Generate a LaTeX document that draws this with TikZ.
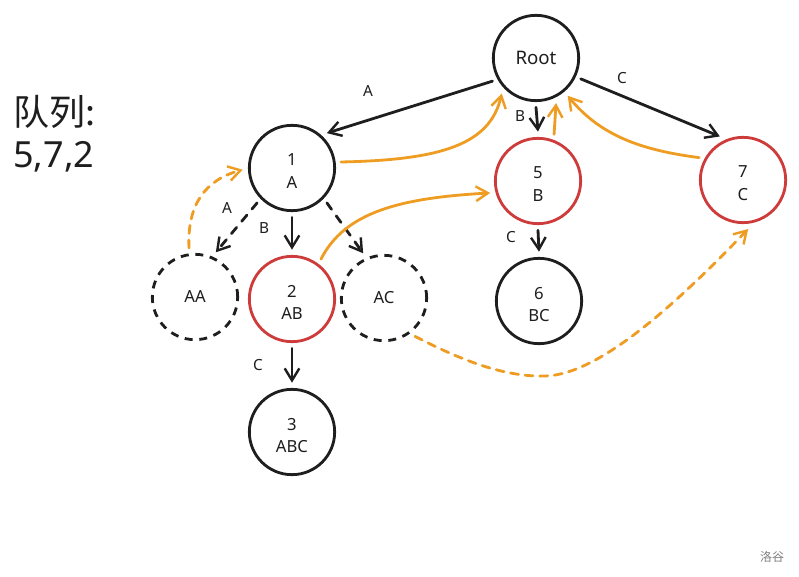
\documentclass[tikz,border=0pt]{standalone}
\usepackage{fontspec}
\setmainfont{Noto Sans}
\newfontfamily\cjk{Noto Sans CJK SC}
\usetikzlibrary{arrows.meta}
\definecolor{ink}{HTML}{1E1E1E}
\definecolor{redc}{HTML}{CD3B3B}
\definecolor{orng}{HTML}{EE9C22}
\newcommand{\twolines}[2]{\raisebox{-4pt}[\height][\depth]{\begin{tabular}{@{}c@{}}#1\\[2pt]#2\end{tabular}}}
\begin{document}
\begin{tikzpicture}[x=0.75pt,y=-0.75pt,
  circ/.style={circle,draw=ink,line width=2.1pt,minimum size=64pt,inner sep=0pt,outer sep=5pt,text=ink,font=\fontsize{12.5}{15}\selectfont,align=center},
  redcirc/.style={circ,draw=redc},
  dashcirc/.style={circ,dash pattern=on 6pt off 5pt},
  tip/.style={-{Straight Barb[length=9pt,width=11pt,line width=1.8pt]}},
  blk/.style={tip,draw=ink,line width=2.1pt,line cap=round},
  blkd/.style={blk,dash pattern=on 6pt off 6pt},
  org/.style={tip,draw=orng,line width=2.1pt,line cap=round},
  orgd/.style={org,dash pattern=on 6pt off 5pt},
  lbl/.style={text=ink,font=\fontsize{11.5}{13}\selectfont,inner sep=0pt}]
\useasboundingbox (0,0) rectangle (799,577);
\fill[white] (0,0) rectangle (799,577);

% queue text
\node[anchor=west,text=ink,font=\cjk\fontsize{27}{30}\selectfont,inner sep=0pt] (q1) at (13,112) {队列:};
\node[anchor=west,text=ink,font=\fontsize{27}{30}\selectfont,inner sep=0pt] (q2) at (13,157) {5,7,2};

% nodes
\node[circ,font=\fontsize{14}{16}\selectfont] (root) at (536,58) {Root};
\node[circ] (n1) at (292,168) {\twolines{1}{A}};
\node[dashcirc] (aa) at (195,297) {AA};
\node[redcirc] (n2) at (292,299) {\twolines{2}{AB}};
\node[dashcirc] (ac) at (384,298) {AC};
\node[redcirc] (n5) at (538,181) {\twolines{5}{B}};
\node[redcirc] (n7) at (743,180) {\twolines{7}{C}};
\node[circ] (n6) at (539,301) {\twolines{6}{BC}};
\node[circ] (n3) at (292,432) {\twolines{3}{ABC}};

% black edges
\draw[blk] (root.-152) -- (n1.45);
\draw[blk] (root.-90) -- (n5.90);
\draw[blk] (root.-25) -- (n7.118);
\draw[blkd] (n1.-135) -- (aa.65);
\draw[blk] (n1.-90) -- (n2.90);
\draw[blkd] (n1.-45) -- (ac.115);
\draw[blk] (n2.-90) -- (n3.90);
\draw[blk] (n5.-90) -- (n6.90);

% edge labels
\node[lbl] (la) at (368,91) {A};
\node[lbl] (lb) at (520,116) {B};
\node[lbl] (lc) at (622,78) {C};
\node[lbl] (laa) at (227,208) {A};
\node[lbl] (lab) at (264,228) {B};
\node[lbl] (lac) at (258,365) {C};
\node[lbl] (lbc) at (511,237) {C};

% orange edges
\draw[org] (n1.7) .. controls (440,160) and (490,145) .. (root.-134);
\draw[org] (n2.54) .. controls (345,212) and (400,198) .. (n5.-166);
\draw[org] (n5.71) -- (root.-66);
\draw[org] (n7.153) .. controls (640,150) and (600,135) .. (root.-50);
\draw[orgd] (aa.97) .. controls (187,205) and (205,180) .. (n1.182);
\draw[orgd] (ac.-51) .. controls (470,365) and (510,377) .. (545,376)
  .. controls (600,375) and (680,300) .. (n7.-84);

% watermark
\node[text=gray,font=\cjk\fontsize{9}{11}\selectfont,inner sep=0pt] (wm) at (772,557) {洛谷};
\end{tikzpicture}
\end{document}
